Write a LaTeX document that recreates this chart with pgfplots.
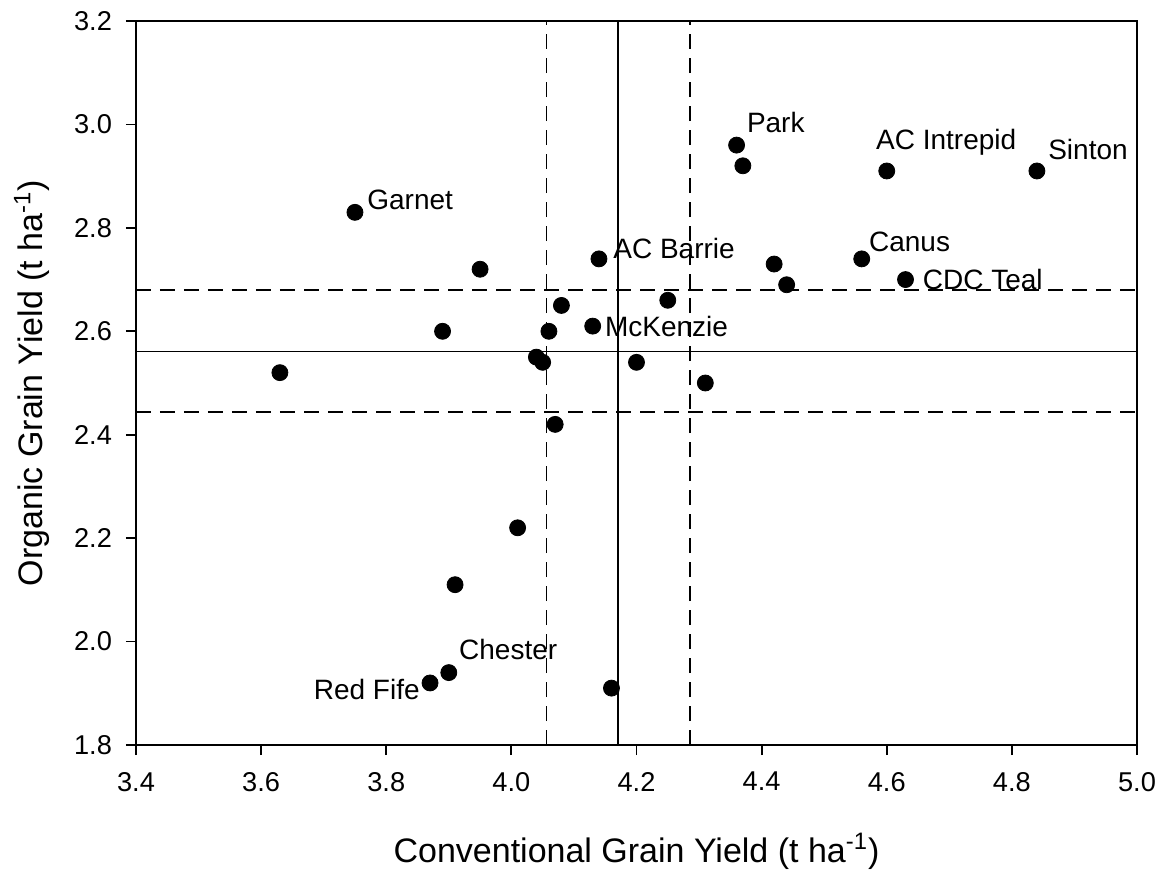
\documentclass[border=0pt]{standalone}
\usepackage{pgfplots}
\pgfplotsset{compat=1.18}
\usepackage{fontspec}
\setmainfont{Liberation Sans}

\begin{document}
\begin{tikzpicture}
\begin{axis}[
    scale only axis,
    width=500.5pt, height=362pt,
    xmin=3.4, xmax=5.0,
    ymin=1.8, ymax=3.2,
    xtick={3.4,3.6,3.8,4.0,4.2,4.4,4.6,4.8,5.0},
    ytick={1.8,2.0,2.2,2.4,2.6,2.8,3.0,3.2},
    xtick pos=bottom, ytick pos=left,
    tick align=outside,
    major tick length=5pt,
    axis line style={line width=1pt},
    tick style={line width=0.9pt, black},
    ticklabel style={font=\fontsize{13.6}{16}\selectfont},
    /pgf/number format/assume math mode=true,
    /pgf/number format/.cd, fixed, fixed zerofill, precision=1, /pgfplots/.cd,
    yticklabel style={xshift=-3.5pt},
    xticklabel style={yshift=-5pt},
    xlabel={Conventional Grain Yield (t ha\textsuperscript{-1})},
    ylabel={Organic Grain Yield (t ha\textsuperscript{-1})},
    label style={font=\fontsize{17}{20}\selectfont},
    xlabel style={at={(axis description cs:0.5,-0.147)}, anchor=center},
    ylabel style={at={(axis description cs:-0.104,0.5)}, anchor=center},
    clip=false,
]
% mean and confidence limits
\addplot[black, line width=0.9pt] coordinates {(4.171,1.8) (4.171,3.2)};
\addplot[black, line width=0.9pt, dash pattern=on 7.5pt off 4.5pt] coordinates {(4.056,1.8) (4.056,3.2)};
\addplot[black, line width=0.9pt, dash pattern=on 7.5pt off 4.5pt] coordinates {(4.285,1.8) (4.285,3.2)};
\addplot[black, line width=0.9pt] coordinates {(3.4,2.561) (5.0,2.561)};
\addplot[black, line width=0.9pt, dash pattern=on 7.5pt off 4.5pt] coordinates {(3.4,2.680) (5.0,2.680)};
\addplot[black, line width=0.9pt, dash pattern=on 7.5pt off 4.5pt] coordinates {(3.4,2.444) (5.0,2.444)};

% cultivars
\addplot[only marks, mark=*, mark size=4pt, black] coordinates {
    (3.75,2.83) (3.95,2.72) (4.14,2.74) (4.08,2.65) (3.89,2.60)
    (4.06,2.60) (4.13,2.61) (4.04,2.55) (4.05,2.54) (4.20,2.54)
    (3.63,2.52) (4.07,2.42) (4.01,2.22) (3.91,2.11) (3.90,1.94)
    (3.87,1.92) (4.16,1.91) (4.36,2.96) (4.37,2.92) (4.60,2.91)
    (4.84,2.91) (4.56,2.74) (4.42,2.73) (4.44,2.69) (4.63,2.70)
    (4.25,2.66) (4.31,2.50)
};

\begin{scope}[every node/.style={font=\fontsize{14}{16}\selectfont, inner sep=0pt}]
\node[anchor=west, xshift=6pt, yshift=6pt] at (axis cs:3.75,2.83) {Garnet};
\node[anchor=west, xshift=7pt, yshift=5pt] at (axis cs:4.14,2.74) {AC Barrie};
\node[anchor=west, xshift=6pt] at (axis cs:4.13,2.61) {McKenzie};
\node[anchor=west, xshift=5pt, yshift=11.5pt] at (axis cs:4.36,2.96) {Park};
\node[anchor=west, xshift=-5.5pt, yshift=14.5pt] at (axis cs:4.60,2.91) {AC Intrepid};
\node[anchor=west, xshift=5.5pt, yshift=10.5pt] at (axis cs:4.84,2.91) {Sinton};
\node[anchor=west, xshift=3.5pt, yshift=8.5pt] at (axis cs:4.56,2.74) {Canus};
\node[anchor=west, xshift=8.5pt] at (axis cs:4.63,2.70) {CDC Teal};
\node[anchor=west, xshift=5pt, yshift=11.5pt] at (axis cs:3.90,1.94) {Chester};
\node[anchor=east, xshift=-5pt, yshift=-3.5pt] at (axis cs:3.87,1.92) {Red Fife};
\end{scope}
\end{axis}
\pgfresetboundingbox
\path[use as bounding box] ([xshift=-68pt,yshift=-62pt]current axis.south west)
    rectangle ([xshift=12.5pt,yshift=10.5pt]current axis.north east);
\end{tikzpicture}
\end{document}
